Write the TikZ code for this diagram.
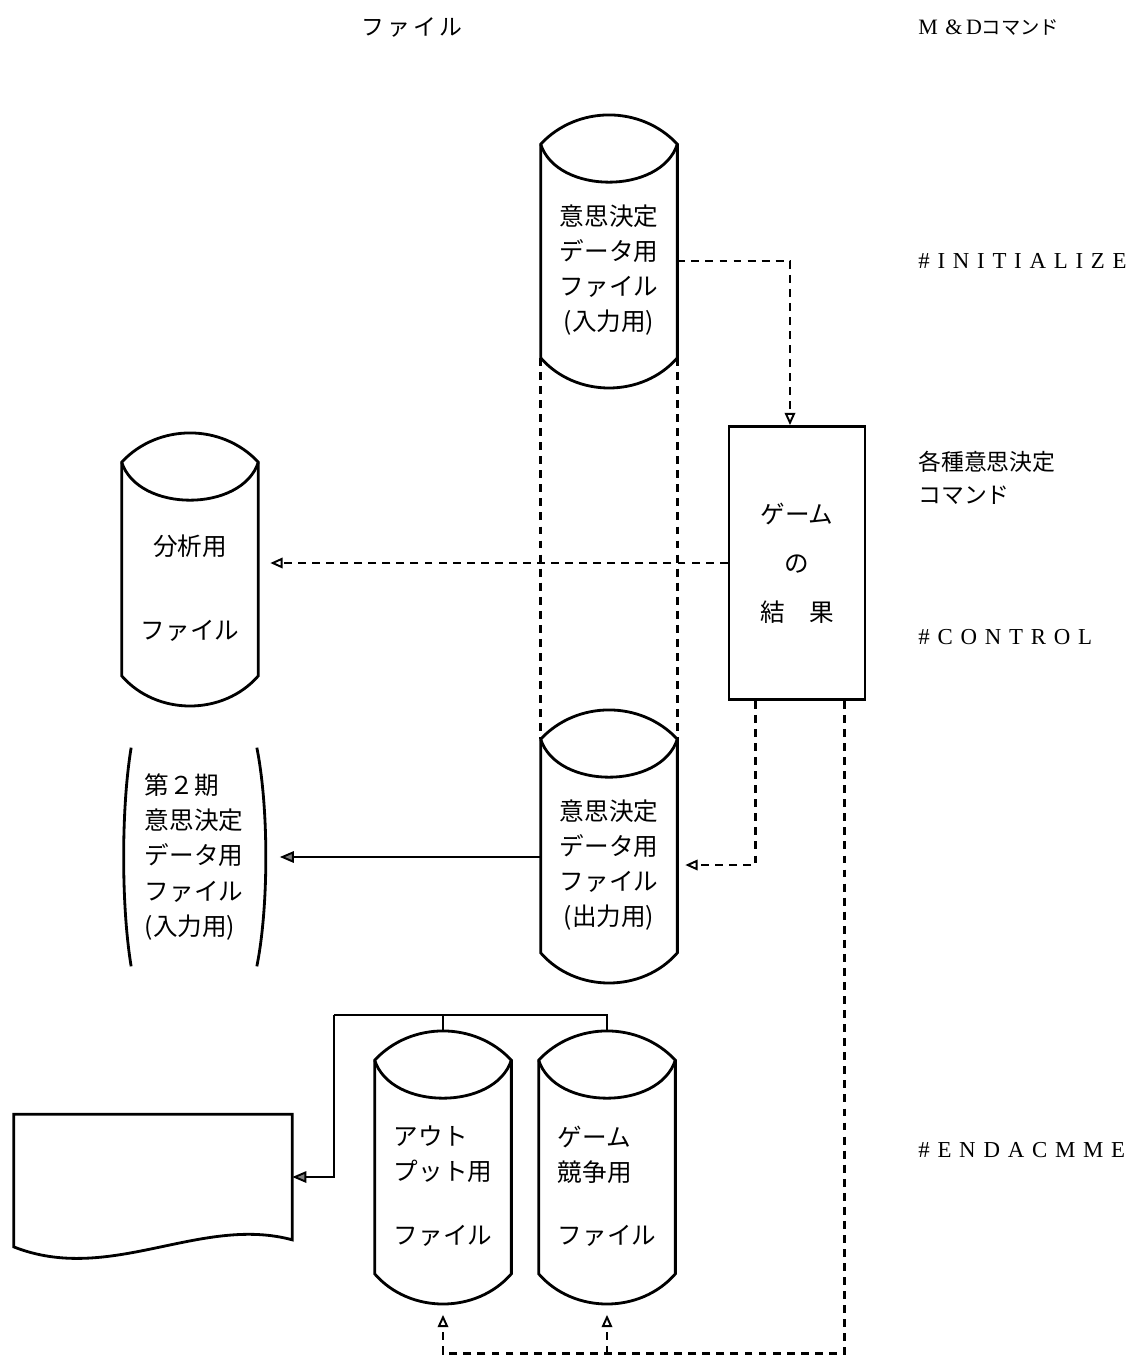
\documentclass[tikz,border=0pt]{standalone}
\usepackage{fontspec}
\setmainfont{Noto Sans CJK JP}
\newfontfamily\latinwide[LetterSpace=34]{Liberation Serif}
\newfontfamily\jpwide[LetterSpace=14]{Noto Sans CJK JP}
\usetikzlibrary{arrows.meta,positioning,calc}

\newcommand{\filedrum}[1]{%
  \coordinate (#1-nw)  at ($(#1.north west)+(0,38)$);
  \coordinate (#1-ne)  at ($(#1.north east)+(0,38)$);
  \coordinate (#1-top) at ($(#1.north)+(0,67)$);
  \coordinate (#1-bot) at ($(#1.south)+(0,-30)$);
  \draw[thickline] (#1-nw) to[out=47,in=133] (#1-ne) -- (#1.south east)
    to[out=-131,in=-49] (#1.south west) -- cycle;
  \draw[thickline] (#1-nw) to[out=-72,in=-108] (#1-ne);
}

\begin{document}
\begin{tikzpicture}[x=0.02cm,y=0.02cm,
  thickline/.style={line width=1.6pt},
  drum/.style={minimum width=2.72cm,minimum height=3.5cm,inner sep=0pt,align=center,font=\fontsize{14}{20}\selectfont},
  dashline/.style={line width=1.6pt,dash pattern=on 4.5pt off 3.5pt},
  opentip/.style={-{Triangle[open,length=7pt,width=6pt,line width=1.1pt]}},
  solidtip/.style={-{Triangle[length=8pt,width=6.5pt,fill=gray,line width=1.1pt]}},
  cmd/.style={anchor=west,inner sep=0pt,font=\latinwide\fontsize{13}{16}\selectfont},
  jplabel/.style={anchor=west,inner sep=0pt,align=left,font=\fontsize{13}{19}\selectfont}]

  \useasboundingbox (0,0) rectangle (1139,-1355);

  % headings
  \node[inner sep=0pt,font=\jpwide\fontsize{13}{16}\selectfont] (hdFile) at (412,-27) {ファイル};
  \node[anchor=west,inner sep=0pt] (hdCmd) at (918,-27)
    {{\latinwide\fontsize{12.5}{14}\selectfont M\&\,D}{\fontsize{11}{14}\selectfont コマンド}};

  % commands
  \node[cmd] (cmdInit) at (918,-261) {\#INITIALIZE};
  \node[jplabel] (cmdEach) at (918,-478) {各種意思決定\\コマンド};
  \node[cmd] (cmdCtrl) at (918,-637) {\#CONTROL};
  \node[cmd] (cmdEnd) at (918,-1150) {\#ENDACMME};

  % files
  \node[drum] (cylIn) at (609,-270) {意思決定\\データ用\\ファイル\\(入力用)};
  \node[drum] (cylOut) at (609,-865) {意思決定\\データ用\\ファイル\\(出力用)};
  \node[drum] (cylAna) at (190,-588) {分析用\\[28pt]ファイル};
  \node[drum,align=left] (cylPrt) at (443,-1186) {アウト\\プット用\\[16pt]ファイル};
  \node[drum,align=left] (cylGame) at (607,-1186) {ゲーム\\競争用\\[16pt]ファイル};
  \foreach \n in {cylIn,cylOut,cylAna,cylPrt,cylGame} {\filedrum{\n}}

  \node[draw,thickline,minimum width=2.72cm,minimum height=5.46cm,align=center,
    font=\fontsize{14}{20}\selectfont] (resBox) at (797,-563) {ゲーム\\[8pt]の\\[8pt]結　果};

  \node[minimum width=2.5cm,minimum height=4.36cm,inner sep=0pt,align=left,
    font=\fontsize{14}{20}\selectfont] (bkt) at (194,-857) {第２期\\意思決定\\データ用\\ファイル\\(入力用)};
  \draw[thickline] (bkt.north west) .. controls +(-10,-60) and +(-10,60) .. (bkt.south west);
  \draw[thickline] (bkt.north east) .. controls +(12,-60) and +(12,60) .. (bkt.south east);

  \node[minimum width=5.56cm,minimum height=2.5cm,inner sep=0pt] (prt) at (153,-1177) {};
  \draw[thickline] (prt.south east) -- (prt.north east) -- (prt.north west)
    -- ($(prt.south west)+(0,-7)$) .. controls +(96,-38) and +(-92,25) .. (prt.south east) -- cycle;

  % flows
  \draw[dashline,opentip] ($(cylIn.east)+(0,9)$) -| ($(resBox.north)+(-7,0)$);
  \draw[dashline,opentip,shorten >=0.24cm] (resBox.west) -- (resBox.west -| cylAna.east);
  \draw[dashline] (cylIn.south west) -- (cylOut-nw);
  \draw[dashline] (cylIn.south east) -- (cylOut-ne);
  \draw[dashline,opentip,shorten >=0.16cm] ($(resBox.south west)+(28,0)$) |- (cylOut.east);
  \draw[thickline,solidtip,shorten >=0.46cm] (bkt.east -| cylOut.west) -- (bkt.east);

  \coordinate (busL) at (334,-1015);
  \draw[thickline] (cylPrt-top) -- (cylPrt-top |- busL);
  \draw[thickline] (cylGame-top) |- (busL);
  \draw[thickline,solidtip] (busL) |- (prt.east);

  \coordinate (retR) at ($(resBox.south east)+(-22,0)$);
  \draw[dashline,opentip,shorten >=0.22cm] (retR) |- ($(cylPrt-bot)+(0,-50)$) -- (cylPrt-bot);
  \draw[dashline,opentip,shorten >=0.22cm] ($(cylGame-bot)+(0,-50)$) -- (cylGame-bot);
\end{tikzpicture}
\end{document}
